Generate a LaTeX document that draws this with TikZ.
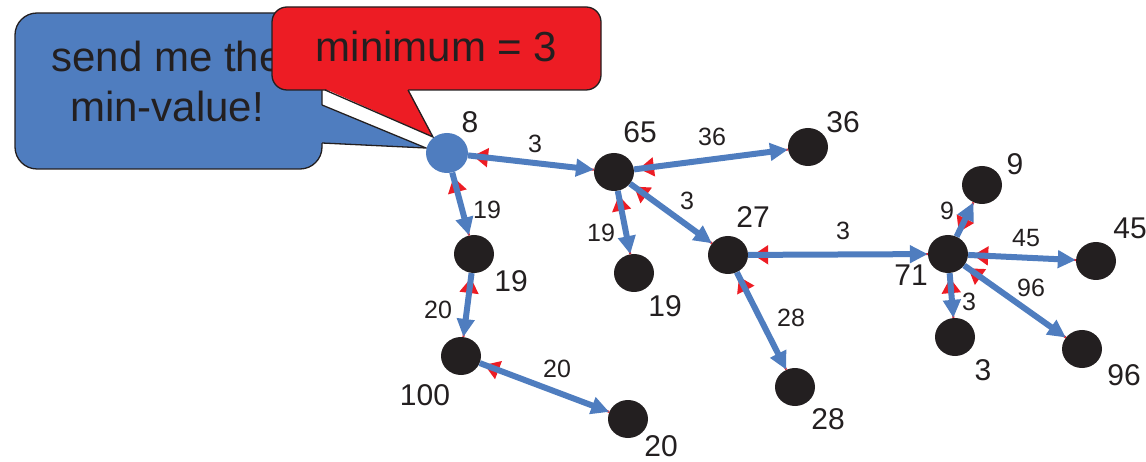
\documentclass[tikz,border=0pt]{standalone}
\usepackage{fontspec}
\setmainfont{Liberation Sans}
\usetikzlibrary{arrows.meta,shapes.geometric}
\definecolor{cblue}{HTML}{4F7DBF}
\definecolor{cred}{HTML}{ED1C24}
\definecolor{cblack}{HTML}{231F20}
\begin{document}
\begin{tikzpicture}[x=1pt,y=-1pt,
 vtx/.style={ellipse,fill=cblack,minimum width=40pt,minimum height=38pt,inner sep=0pt},
 rootvtx/.style={ellipse,fill=cblue,minimum width=42pt,minimum height=40pt,inner sep=0pt},
 nlab/.style={text=cblack,font=\fontsize{30}{30}\selectfont,inner sep=0pt},
 elab/.style={text=cblack,font=\fontsize{25}{25}\selectfont,inner sep=0pt},
 ctext/.style={text=cblack,font=\fontsize{42}{50}\selectfont,inner sep=0pt,anchor=base},
 downarr/.style={draw=cblue,line width=6pt,-{Triangle[length=18pt,width=17pt]}},
 uparr/.style={draw=cred,line width=2pt,shorten >=5pt,-{Triangle[length=15pt,width=19pt]}},
 bubble/.style={draw=cblack,line width=1.3pt},
]
\useasboundingbox (0,0) rectangle (1146,462);

% blue callout
\filldraw[bubble,fill=cblue,rounded corners=22pt] (15,13) rectangle (322,169);
\fill[cblue] (320.8,105) -- (426,148) -- (320.8,143) -- cycle;
\draw[bubble,line join=miter] (322,105) -- (426,148) -- (322,143);
\node[ctext] (t1) at (167,72) {send me the};
\node[ctext] (t2) at (167,122) {min-value!};

% red callout
\filldraw[bubble,fill=cred,rounded corners=15pt] (272,7) rectangle (601,90);
\fill[cred] (325,88.8) -- (433,137) -- (408,88.8) -- cycle;
\draw[bubble,line join=miter] (325,90) -- (433,137) -- (408,90);
\node[ctext] (t3) at (436.5,62) {minimum = 3};

% vertices
\node[rootvtx] (A) at (447,153) {};
\node[vtx] (B) at (614,172) {};
\node[vtx] (C) at (808,147) {};
\node[vtx] (D) at (634,273) {};
\node[vtx] (E) at (728,255) {};
\node[vtx] (F) at (795,387) {};
\node[vtx] (G) at (474,254) {};
\node[vtx] (H) at (461,356) {};
\node[vtx] (I) at (628,419) {};
\node[vtx] (J) at (948,254) {};
\node[vtx] (K) at (982,185) {};
\node[vtx] (L) at (1096,261) {};
\node[vtx] (M) at (955,337) {};
\node[vtx] (N) at (1082,349) {};

% red (child -> parent)
\foreach \p/\c in {A/B,A/G,B/C,B/D,B/E,G/H,H/I,E/J,E/F,J/K,J/L,J/M,J/N}
  \draw[uparr] (\c) -- (\p);
% blue (parent -> child)
\foreach \p/\c in {A/B,A/G,B/C,B/D,B/E,G/H,H/I,E/J,E/F,J/K,J/L,J/M,J/N}
  \draw[downarr] (\p) -- (\c);

% node labels
\node[nlab] (lA) at (470,122) {8};
\node[nlab] (lB) at (640,132) {65};
\node[nlab] (lC) at (843,122) {36};
\node[nlab] (lG) at (511,281) {19};
\node[nlab] (lD) at (665,306) {19};
\node[nlab] (lE) at (753,217) {27};
\node[nlab] (lF) at (828,419) {28};
\node[nlab] (lH) at (425,395) {100};
\node[nlab] (lI) at (661,446) {20};
\node[nlab] (lJ) at (911,275) {71};
\node[nlab] (lK) at (1015,164) {9};
\node[nlab] (lL) at (1130,228) {45};
\node[nlab] (lM) at (983,370) {3};
\node[nlab] (lN) at (1124,375) {96};

% edge labels
\node[elab] (eAB) at (535,144) {3};
\node[elab] (eBC) at (712,137) {36};
\node[elab] (eBE) at (687,201) {3};
\node[elab] (eBD) at (601,233) {19};
\node[elab] (eAG) at (487,210) {19};
\node[elab] (eGH) at (438,310) {20};
\node[elab] (eHI) at (557,369) {20};
\node[elab] (eEJ) at (843,231) {3};
\node[elab] (eEF) at (791,318) {28};
\node[elab] (eJK) at (947,211) {9};
\node[elab] (eJL) at (1026,238) {45};
\node[elab] (eJM) at (969,302) {3};
\node[elab] (eJN) at (1031,288) {96};
\end{tikzpicture}
\end{document}
